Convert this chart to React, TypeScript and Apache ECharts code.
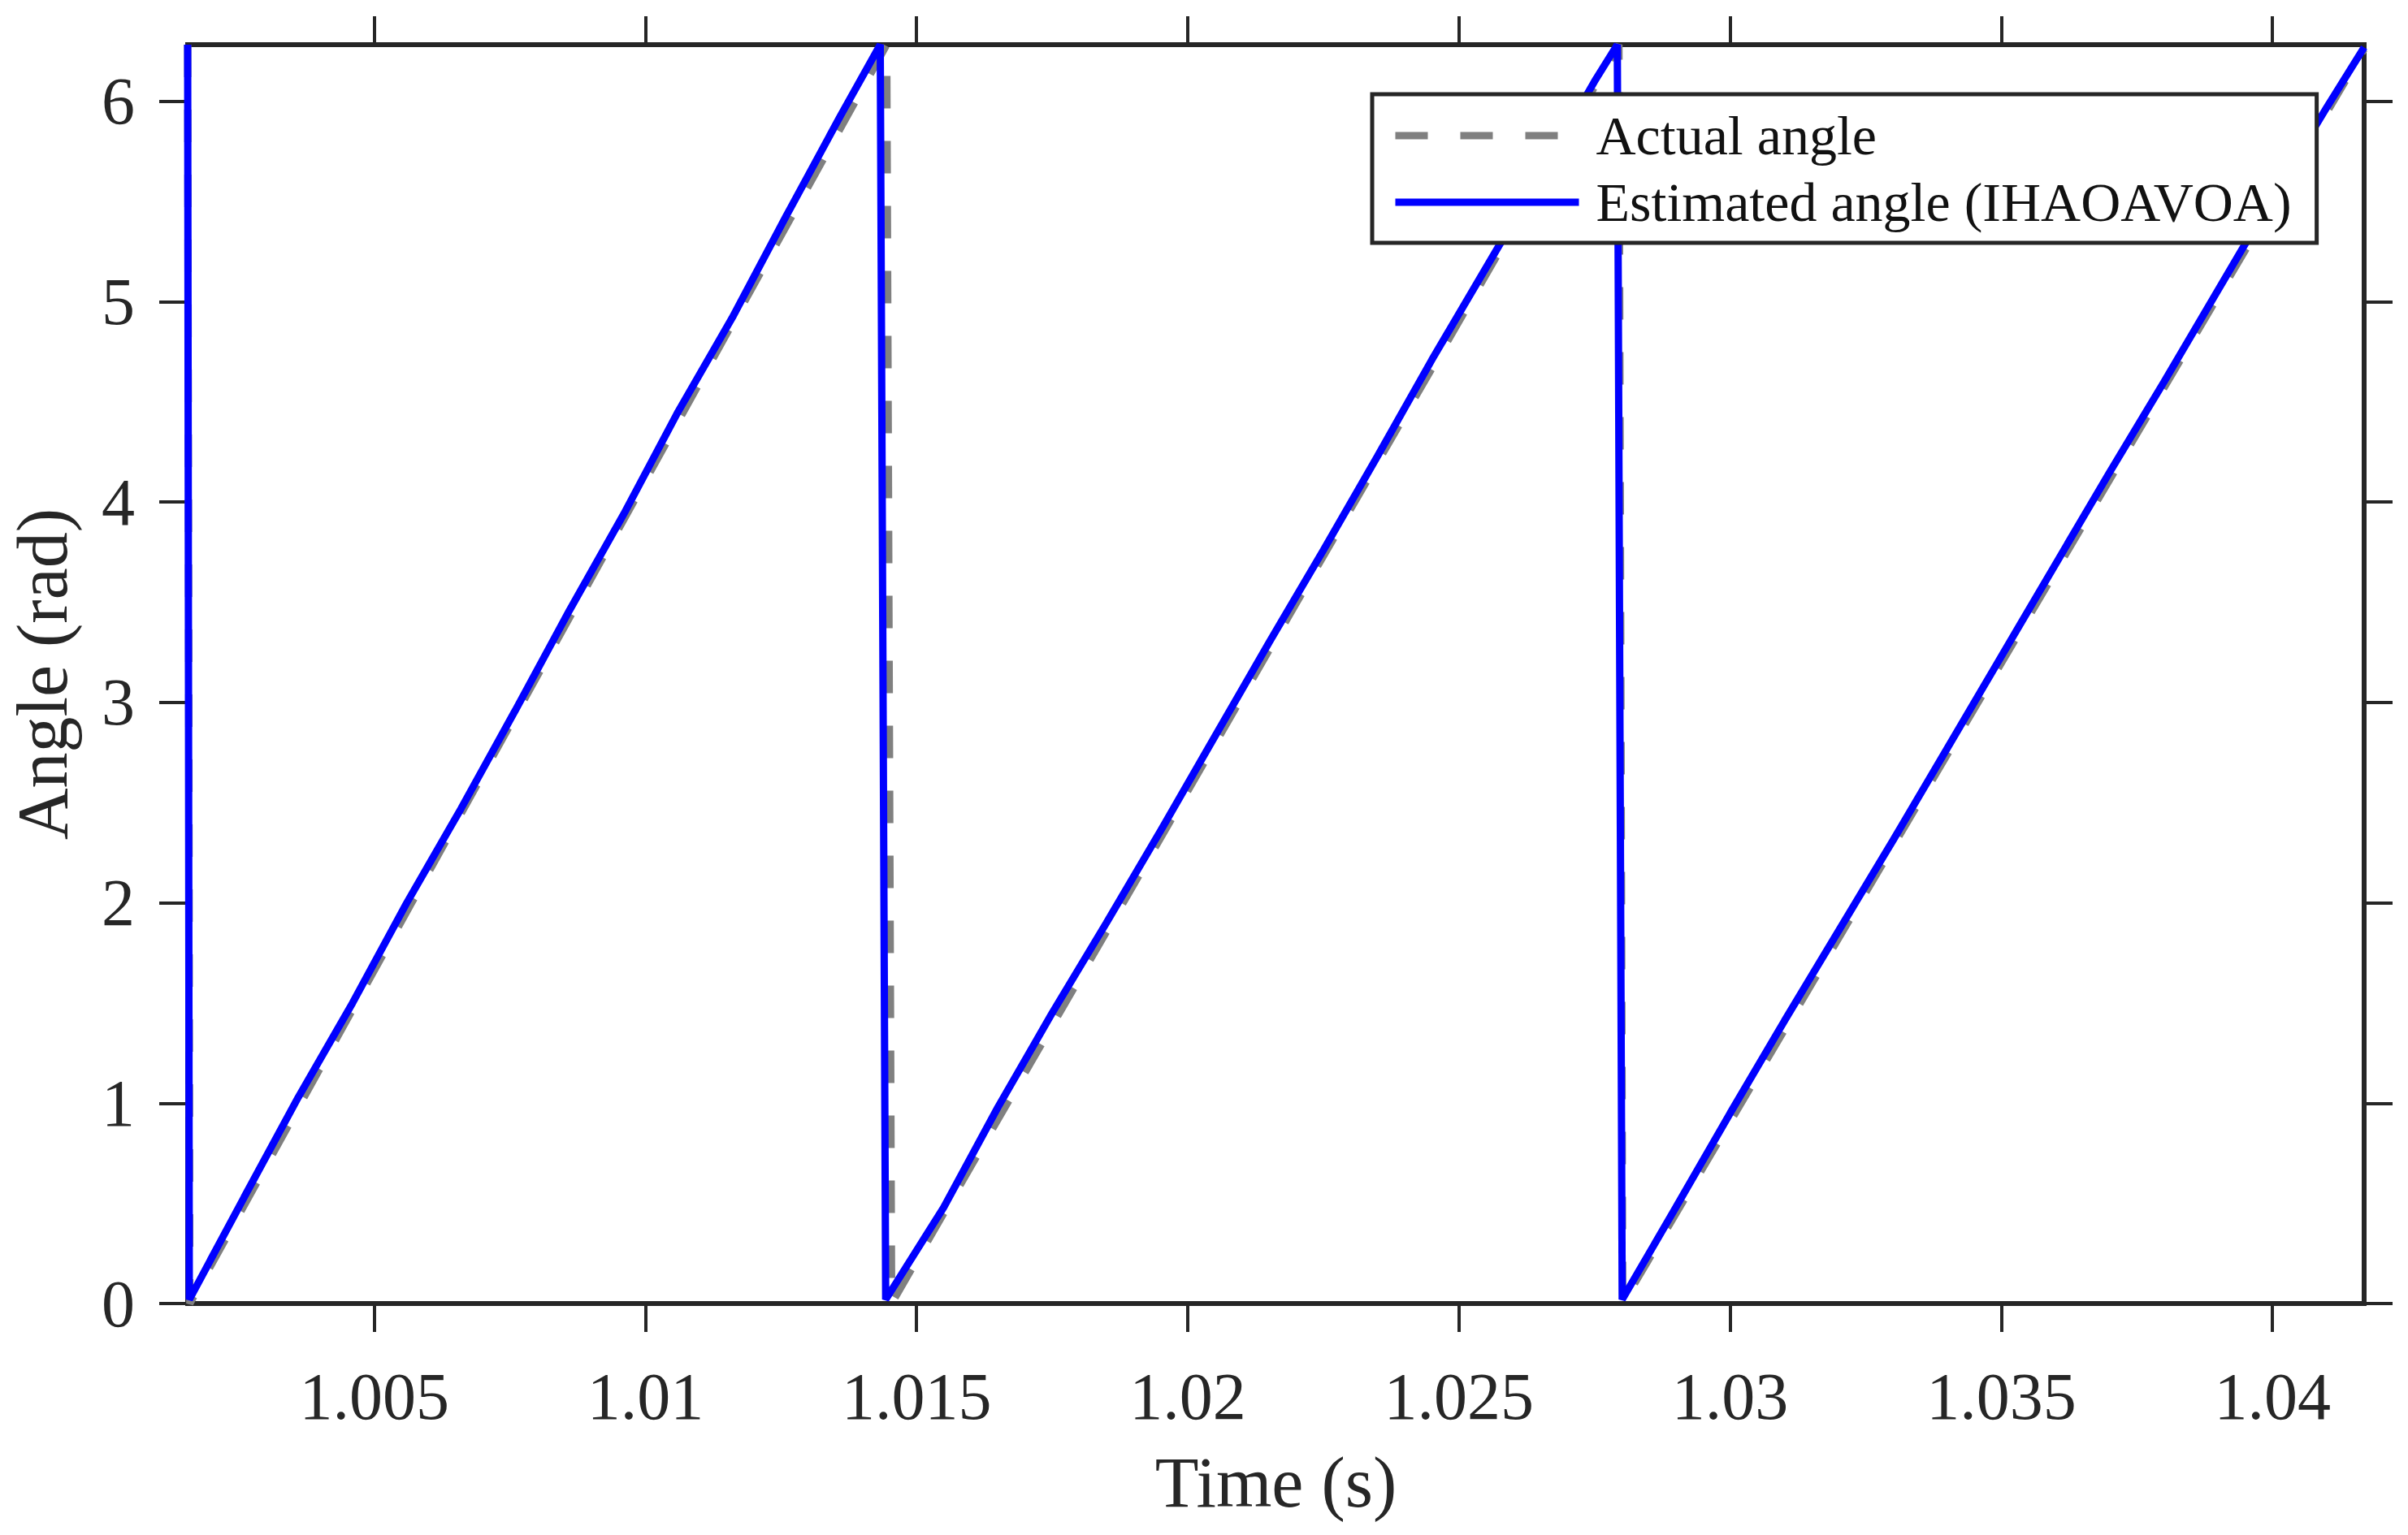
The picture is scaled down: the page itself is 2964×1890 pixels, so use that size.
import React, { useEffect, useRef } from "react";
import * as echarts from "echarts";

const FONT = "Liberation Serif";
const INK = "#262626";

const xTicks = [1.005, 1.01, 1.015, 1.02, 1.025, 1.03, 1.035, 1.04];
const yTicks = [0, 1, 2, 3, 4, 5, 6];
const xMin = 1.00156;
const xMax = 1.04169;
const yMin = 0;
const yMax = 6.2832;

// Actual angle (gray dashed)
const actualTime = [1.00156, 1.0016, 1.01445, 1.01454, 1.02795, 1.02802, 1.04169];
const actualAngle = [6.2832, 0, 6.2832, 0, 6.2832, 0, 6.26];

// Estimated angle (IHAOAVOA) (blue)
const estTime = [
  1.00156, 1.00159, 1.0026, 1.0036, 1.0046, 1.0056, 1.0066, 1.0076, 1.0086, 1.0096,
  1.0106, 1.0116, 1.0126, 1.0136, 1.01433, 1.01443, 1.0155, 1.0165, 1.0175, 1.0185,
  1.0195, 1.0205, 1.0215, 1.0225, 1.0235, 1.0245, 1.0255, 1.0265, 1.0275, 1.02792,
  1.02801, 1.029, 1.03, 1.031, 1.032, 1.033, 1.034, 1.035, 1.036, 1.037,
  1.038, 1.039, 1.04, 1.041, 1.04169,
];
const estAngle = [
  6.2832, 0.02, 0.53, 1.03, 1.5, 2.0, 2.47, 2.96, 3.46, 3.94,
  4.45, 4.92, 5.43, 5.93, 6.2832, 0.02, 0.48, 0.98, 1.45, 1.9,
  2.36, 2.83, 3.3, 3.76, 4.23, 4.71, 5.17, 5.63, 6.1, 6.2832,
  0.02, 0.48, 0.95, 1.41, 1.86, 2.31, 2.77, 3.23, 3.69, 4.15,
  4.6, 5.06, 5.52, 5.97, 6.27,
];

const seriesNames = ["Actual angle", "Estimated angle (IHAOAVOA)"];

export default function App() {
  const ref = useRef<HTMLDivElement>(null);

  useEffect(() => {
    if (!ref.current) return;
    const chart = echarts.init(ref.current, null, { renderer: "svg" });

    const axisLine = { show: true, onZero: false, lineStyle: { color: INK, width: 6 } };
    const axisTickX = {
      show: true,
      inside: false,
      length: 35,
      customValues: xTicks,
      lineStyle: { color: INK, width: 4 },
    };
    const axisTickY = {
      show: true,
      inside: false,
      length: 35,
      customValues: yTicks,
      lineStyle: { color: INK, width: 4 },
    };

    chart.setOption({
      animation: false,
      backgroundColor: "#ffffff",
      grid: {
        left: 229,
        right: 54,
        top: 55,
        bottom: 285,
        show: true,
        borderColor: INK,
        borderWidth: 6,
        backgroundColor: "transparent",
        containLabel: false,
      },
      legend: {
        data: seriesNames,
        orient: "vertical",
        left: 1689,
        top: 116,
        padding: [17, 31, 16, 24],
        itemGap: 14,
        itemWidth: 226,
        itemHeight: 68,
        backgroundColor: "#ffffff",
        borderColor: INK,
        borderWidth: 5,
        borderRadius: 0,
        itemStyle: { opacity: 0 },
        lineStyle: { width: 9 },
        textStyle: {
          fontFamily: FONT,
          fontSize: 68,
          lineHeight: 68,
          color: "#111111",
          padding: [0, 0, 0, 16],
        },
      },
      xAxis: [
        {
          type: "value",
          min: xMin,
          max: xMax,
          position: "bottom",
          name: "Time (s)",
          nameLocation: "middle",
          nameGap: 176,
          nameTextStyle: { fontFamily: FONT, fontSize: 88, lineHeight: 88, color: INK },
          axisLine,
          axisTick: axisTickX,
          axisLabel: {
            show: true,
            customValues: xTicks,
            margin: 73,
            fontFamily: FONT,
            fontSize: 82,
            lineHeight: 82,
            color: INK,
            formatter: (v: number) => String(Number(v.toFixed(3))),
          },
          splitLine: { show: false },
        },
        {
          type: "value",
          min: xMin,
          max: xMax,
          position: "top",
          axisLine,
          axisTick: axisTickX,
          axisLabel: { show: false },
          splitLine: { show: false },
        },
      ],
      yAxis: [
        {
          type: "value",
          min: yMin,
          max: yMax,
          position: "left",
          name: "Angle (rad)",
          nameLocation: "middle",
          nameGap: 135,
          nameTextStyle: { fontFamily: FONT, fontSize: 88, lineHeight: 88, color: INK },
          axisLine,
          axisTick: axisTickY,
          axisLabel: {
            show: true,
            customValues: yTicks,
            margin: 65,
            fontFamily: FONT,
            fontSize: 82,
            lineHeight: 82,
            color: INK,
          },
          splitLine: { show: false },
        },
        {
          type: "value",
          min: yMin,
          max: yMax,
          position: "right",
          axisLine,
          axisTick: axisTickY,
          axisLabel: { show: false },
          splitLine: { show: false },
        },
      ],
      series: [
        {
          name: seriesNames[0],
          type: "line",
          xAxisIndex: 0,
          yAxisIndex: 0,
          data: actualTime.map((t, i) => [t, actualAngle[i]]),
          symbol: "none",
          showSymbol: false,
          lineStyle: { color: "#808080", width: 9, type: [40, 40] },
          itemStyle: { color: "#808080" },
          z: 2,
        },
        {
          name: seriesNames[1],
          type: "line",
          xAxisIndex: 0,
          yAxisIndex: 0,
          data: estTime.map((t, i) => [t, estAngle[i]]),
          symbol: "none",
          showSymbol: false,
          lineStyle: { color: "#0000ff", width: 9 },
          itemStyle: { color: "#0000ff" },
          z: 3,
        },
      ],
    });

    return () => chart.dispose();
  }, []);

  return (
    <div
      ref={ref}
      style={{ position: "absolute", left: 0, top: 0, width: 2964, height: 1890 }}
    />
  );
}
